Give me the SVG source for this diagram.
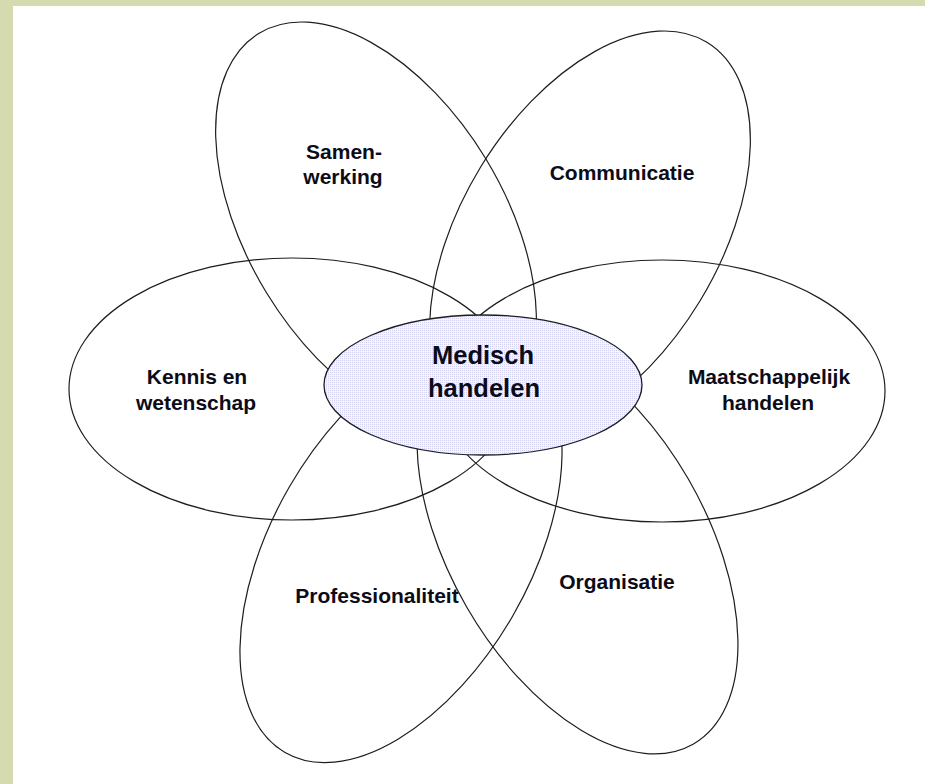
<svg xmlns="http://www.w3.org/2000/svg" width="925" height="784" viewBox="0 0 925 784">
  <defs>
    <pattern id="dots" width="2" height="2" patternUnits="userSpaceOnUse">
      <rect width="2" height="2" fill="#f5f5fd"/>
      <rect width="1" height="1" fill="#d2d2f0"/>
    </pattern>
  </defs>
  <style>
    .petal { fill: none; stroke: #1e1e1e; stroke-width: 1.2; }
    .core { fill: url(#dots); stroke: #1e1e1e; stroke-width: 1.3; }
    .label { font-family: "Liberation Sans", Arial, sans-serif; font-weight: bold; font-size: 21px; fill: #0c0c18; text-anchor: middle; }
    .core-label { font-family: "Liberation Sans", Arial, sans-serif; font-weight: bold; font-size: 25.5px; fill: #0c0c18; text-anchor: middle; }
  </style>

  <!-- page background with frame strips -->
  <rect width="925" height="784" fill="#ffffff"/>
  <rect x="0" y="0" width="925" height="6" fill="#d5daaf"/>
  <rect x="0" y="0" width="13" height="784" fill="#d5daaf"/>

  <g id="samenwerking">
    <ellipse class="petal" cx="0" cy="0" rx="225" ry="128.5" transform="translate(376 225.5) rotate(58.7)"/>
    <text class="label" x="344" y="159">Samen-</text>
    <text class="label" x="343" y="184">werking</text>
  </g>

  <g id="communicatie">
    <ellipse class="petal" cx="0" cy="0" rx="225" ry="128.5" transform="translate(590 234.5) rotate(-58.7)"/>
    <text class="label" x="622" y="180">Communicatie</text>
  </g>

  <g id="kennis-en-wetenschap">
    <ellipse class="petal" cx="292" cy="389" rx="223" ry="131"/>
    <text class="label" x="197" y="384">Kennis en</text>
    <text class="label" x="196" y="410">wetenschap</text>
  </g>

  <g id="maatschappelijk-handelen">
    <ellipse class="petal" cx="662" cy="391" rx="223" ry="131"/>
    <text class="label" x="769" y="384">Maatschappelijk</text>
    <text class="label" x="768" y="410">handelen</text>
  </g>

  <g id="professionaliteit">
    <ellipse class="petal" cx="0" cy="0" rx="232" ry="129" transform="translate(401 551.5) rotate(-60)"/>
    <text class="label" x="377" y="603">Professionaliteit</text>
  </g>

  <g id="organisatie">
    <ellipse class="petal" cx="0" cy="0" rx="232" ry="128" transform="translate(577.5 543) rotate(60)"/>
    <text class="label" x="617" y="589">Organisatie</text>
  </g>

  <g id="medisch-handelen">
    <ellipse class="core" cx="483" cy="385" rx="159" ry="70"/>
    <text class="core-label" x="483" y="364">Medisch</text>
    <text class="core-label" x="484" y="397">handelen</text>
  </g>
</svg>
